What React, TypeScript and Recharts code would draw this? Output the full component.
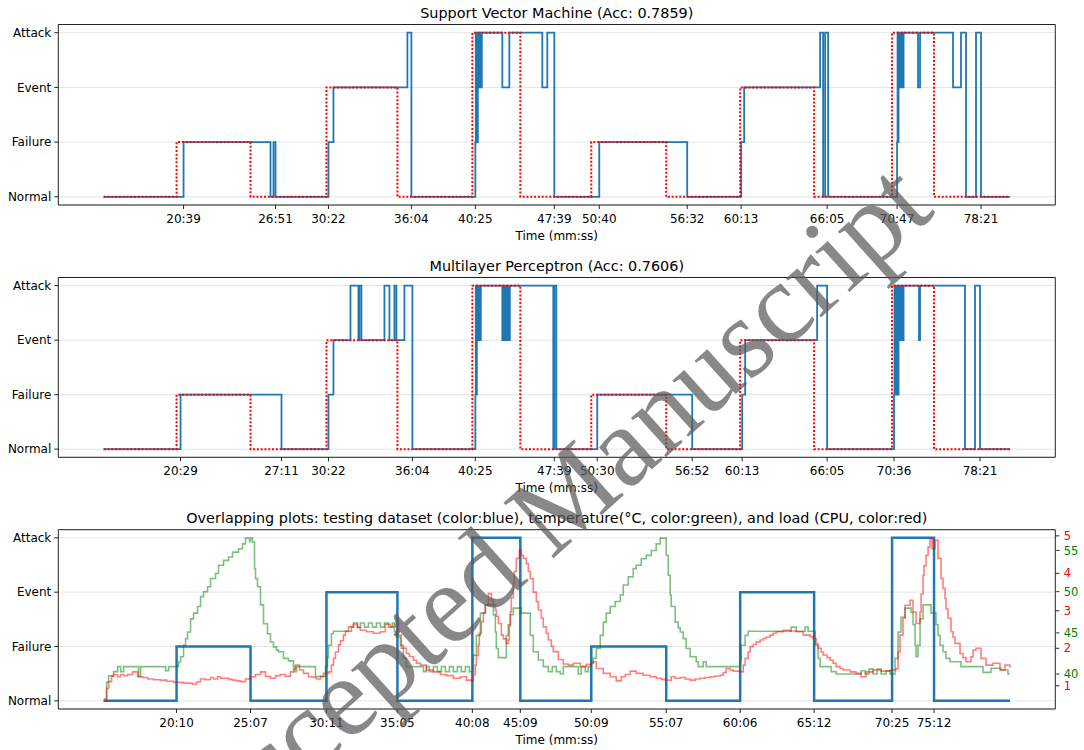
import React from 'react';
import { LineChart, Line, XAxis, YAxis, CartesianGrid } from 'recharts';

const LEVELS = ['Normal', 'Failure', 'Event', 'Attack'];

// x is the sample index of the testing dataset, value is the class (0 Normal .. 3 Attack)
const trueLabels: [number, number][] = [
  [0, 0], [73, 1], [147, 0], [223, 2], [294, 0], [369, 3], [417, 0], [488, 1],
  [563, 0], [637, 2], [711, 0], [789, 3], [831, 0], [907, 0],
];

const svmPred: [number, number][] = [
  [0, 0], [80, 1], [167, 0], [170, 1], [172, 0], [225, 1], [230, 2], [304, 3], [308, 0],
  [372, 1], [372.5, 3], [373, 1], [373.5, 3], [374, 1], [374.5, 3], [375, 2], [375.5, 3],
  [376, 2], [376.5, 3], [377, 2], [377.5, 3], [378, 2], [378.5, 3], [379, 3],
  [399, 2], [406, 3], [439, 2], [444, 3], [451, 0], [496, 1], [584, 0], [638, 1], [641, 2],
  [717, 3], [720, 0], [722, 3], [725, 0],
  [794, 1], [794.5, 3], [795, 1], [795.5, 3], [796, 2], [796.5, 3], [797, 2], [797.5, 3],
  [798, 2], [798.5, 3], [799, 2], [799.5, 3], [800, 2], [800.5, 3],
  [815, 2], [817, 3], [850, 2], [858, 3], [863, 0], [873, 3], [878, 0], [907, 0],
];

const mlpPred: [number, number][] = [
  [0, 0], [77, 1], [178, 0], [225, 1], [230, 2], [247, 3], [255, 2], [256, 3], [258, 2],
  [281, 3], [286, 2], [291, 3], [293, 2], [301, 3], [309, 0],
  [372, 1], [372.5, 3], [373, 1], [373.5, 3], [374, 2], [374.5, 3], [375, 2], [375.5, 3],
  [376, 2], [376.5, 3], [377, 2], [377.5, 3], [378, 3],
  [399, 2], [399.5, 3], [400, 2], [400.5, 3], [401, 2], [401.5, 3], [402, 2], [402.5, 3],
  [403, 2], [403.5, 3], [404, 2], [404.5, 3], [405, 2], [405.5, 3], [406, 2], [406.5, 3],
  [450, 0], [451, 3], [453, 0], [494, 1], [589, 0], [639, 1], [642, 2], [714, 3], [724, 0],
  [791, 1], [791.5, 3], [792, 1], [792.5, 3], [793, 1], [793.5, 3], [794, 1], [794.5, 3],
  [795, 1], [795.5, 3], [796, 2], [796.5, 3], [797, 2], [797.5, 3], [798, 2], [798.5, 3],
  [799, 2], [799.5, 3], [800, 2], [800.5, 3],
  [816, 2], [817, 3], [862, 0], [872, 3], [877, 0], [907, 0],
];

// temperature in °C
const temperature: [number, number][] = [
  [0, 37.0], [3, 39.0], [5, 39.8], [10, 40.3], [14, 40.9], [17, 40.3], [20, 40.9], [35, 39.7],
  [37, 40.9], [62, 40.4], [65, 40.9], [75, 41.5], [77, 42.1], [80, 43.5], [82, 44.3], [84, 45.1],
  [87, 46.7], [90, 47.4], [94, 48.2], [97, 49.4], [100, 50.0], [104, 50.6], [107, 51.6],
  [112, 52.2], [115, 53.2], [120, 53.8], [125, 54.2], [129, 54.8], [135, 55.2], [139, 55.8],
  [142, 56.5], [146, 56.1], [147, 56.5], [149, 56.0], [151, 52.8], [152, 51.6], [154, 50.6],
  [157, 48.4], [160, 46.1], [164, 44.9], [167, 43.9], [170, 43.3], [173, 42.9], [175, 42.7],
  [180, 41.9], [185, 41.6], [190, 40.9], [191, 40.3], [193, 40.9], [212, 39.7], [222, 40.9],
  [224, 42.0], [225, 43.5], [228, 44.9], [230, 45.2], [248, 45.7], [250, 46.2], [254, 45.7],
  [257, 46.2], [261, 45.7], [265, 46.2], [269, 45.7], [273, 46.2], [277, 45.7], [281, 46.2],
  [285, 45.7], [289, 46.2], [291, 45.2], [293, 44.5], [297, 43.5], [300, 41.9], [303, 40.9],
  [320, 40.3], [323, 40.9], [326, 40.3], [330, 40.9], [334, 40.3], [338, 40.9], [342, 40.3],
  [346, 40.9], [350, 40.3], [354, 40.9], [358, 40.3], [362, 40.9], [366, 40.3], [370, 42.3],
  [373, 44.7], [377, 47.4], [382, 48.4], [390, 47.2], [392, 45.1], [393, 43.1], [395, 42.0],
  [403, 44.7], [405, 46.0], [407, 47.2], [410, 48.0], [418, 47.4], [427, 44.7], [430, 42.7],
  [435, 41.7], [440, 40.9], [445, 40.3], [449, 40.9], [453, 40.3], [457, 40.0], [460, 40.9],
  [475, 40.0], [478, 40.9], [482, 40.3], [485, 40.9], [488, 41.3], [490, 41.9], [493, 43.1],
  [497, 44.7], [500, 46.3], [503, 47.4], [507, 48.2], [512, 48.8], [517, 49.6], [520, 50.8],
  [525, 51.8], [530, 52.8], [533, 53.2], [538, 54.0], [543, 54.4], [548, 55.0], [553, 55.8],
  [557, 56.5], [563, 54.4], [565, 52.0], [567, 49.6], [568, 48.2], [572, 46.3], [575, 45.6],
  [577, 45.1], [580, 44.3], [583, 43.1], [587, 42.1], [593, 41.5], [595, 40.9], [600, 41.5],
  [603, 40.9], [637, 41.5], [638, 43.5], [642, 44.7], [645, 45.2], [688, 45.7], [693, 45.2],
  [702, 45.7], [705, 45.2], [712, 43.5], [715, 41.9], [717, 40.9], [728, 40.3], [733, 40.0],
  [758, 40.4], [762, 40.0], [766, 40.6], [770, 40.0], [774, 40.6], [778, 40.0], [783, 40.4],
  [787, 40.0], [792, 41.9], [795, 45.1], [798, 46.9], [802, 48.0], [808, 47.5], [810, 46.0],
  [812, 43.5], [813, 42.1], [815, 43.5], [817, 46.7], [820, 48.4], [828, 47.4], [833, 46.0],
  [835, 44.7], [837, 43.5], [840, 42.7], [843, 41.9], [847, 41.5], [858, 40.9], [880, 40.2],
  [888, 40.7], [898, 40.5], [905, 40.0], [907, 40.0],
];

// CPU load
const cpuLoad: [number, number][] = [
  [0, 0.6], [3, 0.93], [5, 1.11], [8, 1.25], [10, 1.3], [14, 1.24], [17, 1.3], [20, 1.27],
  [24, 1.3], [29, 1.37], [34, 1.24], [39, 1.22], [44, 1.18], [50, 1.16], [57, 1.15], [63, 1.12],
  [70, 1.09], [80, 1.07], [89, 1.04], [93, 1.1], [97, 1.18], [102, 1.16], [107, 1.22],
  [110, 1.18], [114, 1.24], [117, 1.2], [120, 1.2], [125, 1.17], [129, 1.15], [133, 1.13],
  [137, 1.11], [142, 1.18], [147, 1.24], [152, 1.3], [157, 1.37], [162, 1.25], [167, 1.2],
  [172, 1.27], [177, 1.3], [182, 1.25], [187, 1.37], [190, 1.45], [192, 1.55], [196, 1.42],
  [200, 1.33], [205, 1.24], [210, 1.22], [213, 1.18], [217, 1.25], [220, 1.33], [225, 1.37],
  [228, 1.55], [230, 1.73], [232, 1.9], [235, 2.09], [237, 2.2], [240, 2.35], [242, 2.45],
  [245, 2.57], [250, 2.64], [254, 2.55], [257, 2.48], [263, 2.44], [270, 2.4], [277, 2.44],
  [282, 2.64], [287, 2.57], [292, 2.64], [295, 2.35], [298, 2.0], [303, 1.86], [306, 1.78],
  [310, 1.68], [313, 1.6], [317, 1.55], [323, 1.42], [330, 1.37], [337, 1.3], [343, 1.27],
  [350, 1.2], [357, 1.24], [363, 1.15], [368, 1.13], [370, 1.3], [372, 1.55], [373, 1.8],
  [375, 2.09], [376, 2.4], [378, 2.71], [380, 2.95], [382, 3.15], [385, 3.46], [388, 3.28],
  [390, 3.15], [392, 3.02], [393, 2.85], [395, 2.66], [398, 2.35], [400, 2.25], [403, 2.13],
  [405, 2.22], [406, 2.6], [407, 2.97], [408, 3.35], [410, 3.73], [411, 4.05], [413, 4.4],
  [416, 4.62], [418, 4.48], [420, 4.4], [423, 4.26], [425, 4.05], [427, 3.86], [430, 3.5],
  [433, 3.25], [435, 3.02], [438, 2.8], [440, 2.57], [443, 2.4], [445, 2.22], [448, 2.05],
  [450, 1.91], [455, 1.7], [460, 1.58], [465, 1.55], [470, 1.6], [477, 1.51], [483, 1.57],
  [488, 1.64], [493, 1.46], [500, 1.33], [507, 1.24], [513, 1.13], [518, 1.24], [522, 1.3],
  [527, 1.39], [533, 1.33], [540, 1.28], [547, 1.24], [553, 1.2], [558, 1.17], [562, 1.15],
  [568, 1.24], [572, 1.2], [577, 1.22], [582, 1.18], [587, 1.15], [592, 1.18], [597, 1.2],
  [602, 1.22], [607, 1.24], [612, 1.26], [617, 1.28], [620, 1.35], [623, 1.46], [627, 1.42],
  [630, 1.39], [637, 1.37], [640, 1.55], [642, 1.73], [645, 1.9], [647, 2.04], [650, 2.1],
  [653, 2.17], [657, 2.22], [660, 2.26], [663, 2.3], [667, 2.35], [670, 2.4], [673, 2.44],
  [680, 2.48], [687, 2.46], [693, 2.44], [697, 2.44], [700, 2.35], [703, 2.35], [707, 2.31],
  [710, 2.26], [713, 2.12], [715, 2.0], [718, 1.9], [720, 1.82], [724, 1.75], [727, 1.68],
  [730, 1.6], [733, 1.51], [737, 1.46], [740, 1.42], [747, 1.37], [753, 1.33], [758, 1.24],
  [763, 1.37], [770, 1.42], [778, 1.39], [787, 1.42], [793, 1.46], [795, 1.9], [797, 2.35],
  [800, 2.8], [802, 3.15], [807, 3.28], [810, 2.97], [813, 2.66], [817, 2.97], [818, 3.45],
  [820, 3.95], [821, 4.2], [823, 4.48], [825, 4.7], [827, 4.93], [829, 4.66], [832, 4.88],
  [835, 4.4], [838, 3.86], [840, 3.6], [842, 3.33], [843, 3.05], [845, 2.8], [848, 2.44],
  [850, 2.3], [852, 2.13], [857, 1.86], [860, 1.75], [863, 1.64], [868, 1.77], [870, 1.95],
  [873, 2.0], [878, 1.73], [883, 1.55], [890, 1.6], [897, 1.42], [902, 1.55], [907, 1.48],
];

const svmTicks = [80, 172, 225, 308, 372, 451, 496, 584, 638, 724, 794, 878];
const svmTickLabels = ['20:39', '26:51', '30:22', '36:04', '40:25', '47:39', '50:40', '56:32', '60:13', '66:05', '70:47', '78:21'];
const mlpTicks = [77, 178, 225, 309, 372, 451, 494, 589, 639, 724, 791, 877];
const mlpTickLabels = ['20:29', '27:11', '30:22', '36:04', '40:25', '47:39', '50:30', '56:52', '60:13', '66:05', '70:36', '78:21'];
const testTicks = [73, 147, 223, 294, 369, 417, 488, 563, 637, 711, 789, 831];
const testTickLabels = ['20:10', '25:07', '30:11', '35:05', '40:08', '45:09', '50:09', '55:07', '60:06', '65:12', '70:25', '75:12'];
const cpuTicks = [1, 2, 3, 4, 5];
const tempTicks = [40, 45, 50, 55];

const X_DOMAIN: [number, number] = [-45.35, 952.35];
const LEVEL_DOMAIN: [number, number] = [-0.15, 3.15];
const SPINE = '#222';
const TICK_FONT = 12;

const toRows = (pts: [number, number][]) => pts.map(([t, v]) => ({ t, v }));

const titleStyle: React.CSSProperties = {
  position: 'absolute', left: 58.3, width: 997, top: 4, textAlign: 'center',
  fontSize: 14.4, lineHeight: '18px', color: '#000', whiteSpace: 'nowrap',
};

const timeAxis = (ticks: number[], labels: string[]) => (
  <XAxis
    dataKey="t" type="number" domain={X_DOMAIN} allowDataOverflow
    ticks={ticks} interval={0} tickFormatter={(v: number) => labels[ticks.indexOf(v)] ?? ''}
    height={36} tickSize={4} tickMargin={5} stroke={SPINE}
    tick={{ fill: '#000', fontSize: TICK_FONT }}
    label={{ value: 'Time (mm:ss)', position: 'insideBottom', offset: 1, fill: '#000', fontSize: TICK_FONT }}
  />
);

// a tickless top axis closes the frame like matplotlib's top spine
const topSpine = () => (
  <XAxis xAxisId="top" orientation="top" type="number" domain={X_DOMAIN} allowDataOverflow tick={false} tickLine={false} height={1} stroke={SPINE} />
);

const levelAxis = () => (
  <YAxis
    type="number" domain={LEVEL_DOMAIN} allowDataOverflow ticks={[0, 1, 2, 3]}
    tickFormatter={(v: number) => LEVELS[v]} width={58.3} tickSize={4} tickMargin={3}
    stroke={SPINE} tick={{ fill: '#000', fontSize: TICK_FONT }}
  />
);

const ClassChart = ({ top, bottom, title, pred, ticks, labels }: {
  top: number; bottom: number; title: string; pred: [number, number][]; ticks: number[]; labels: string[];
}) => (
  <div style={{ position: 'absolute', left: 0, top, width: 1084, height: 250 }}>
    <div style={titleStyle}>{title}</div>
    <LineChart width={1084} height={250} margin={{ top: 23.5, right: 27.7, bottom, left: 0 }}>
      <CartesianGrid vertical={false} stroke="#e4e4e4" />
      {timeAxis(ticks, labels)}
      {topSpine()}
      {levelAxis()}
      <YAxis yAxisId="frame" orientation="right" type="number" domain={[0, 1]} tick={false} tickLine={false} width={1} stroke={SPINE} />
      <Line data={toRows(pred)} dataKey="v" type="stepAfter" stroke="#1f77b4" strokeWidth={1.8} dot={false} isAnimationActive={false} />
      <Line data={toRows(trueLabels)} dataKey="v" type="stepAfter" stroke="#ff0000" strokeWidth={2} strokeDasharray="2 1.8" dot={false} isAnimationActive={false} />
    </LineChart>
  </div>
);

const OverlapChart = ({ top }: { top: number }) => (
  <div style={{ position: 'absolute', left: 0, top, width: 1084, height: 245 }}>
    <div style={titleStyle}>
      Overlapping plots: testing dataset (color:blue), temperature(°C, color:green), and load (CPU, color:red)
    </div>
    <LineChart width={1084} height={245} margin={{ top: 23.7, right: 0, bottom: 5, left: 0 }}>
      <CartesianGrid vertical={false} stroke="#e4e4e4" />
      {timeAxis(testTicks, testTickLabels)}
      {topSpine()}
      {levelAxis()}
      <YAxis yAxisId="cpu" orientation="right" type="number" domain={[0.379, 5.165]} allowDataOverflow ticks={cpuTicks} width={1} tickSize={4} tickMargin={4.5} stroke={SPINE} tick={{ fill: '#ff0000', fontSize: 11.5, textAnchor: 'start' }} />
      <YAxis yAxisId="temp" orientation="right" type="number" domain={[35.76, 57.52]} allowDataOverflow ticks={tempTicks} width={27.7} tickSize={3} tickMargin={4.5} axisLine={false} stroke={SPINE} tick={{ fill: '#008000', fontSize: 11.5, textAnchor: 'start' }} />
      <Line data={toRows(trueLabels)} dataKey="v" type="stepAfter" stroke="#1f77b4" strokeWidth={2.5} dot={false} isAnimationActive={false} />
      <Line yAxisId="temp" data={toRows(temperature)} dataKey="v" type="stepAfter" stroke="#008000" strokeOpacity={0.5} strokeWidth={1.6} dot={false} isAnimationActive={false} />
      <Line yAxisId="cpu" data={toRows(cpuLoad)} dataKey="v" type="stepAfter" stroke="#ff0000" strokeOpacity={0.5} strokeWidth={1.6} dot={false} isAnimationActive={false} />
    </LineChart>
  </div>
);

export default function App() {
  return (
    <div style={{ position: 'absolute', left: 0, top: 0, width: 1084, height: 750, overflow: 'hidden', background: '#fff', fontFamily: '"DejaVu Sans", sans-serif' }}>
      <ClassChart top={0} bottom={9} title="Support Vector Machine (Acc: 0.7859)" pred={svmPred} ticks={svmTicks} labels={svmTickLabels} />
      <ClassChart top={253} bottom={9.7} title="Multilayer Perceptron (Acc: 0.7606)" pred={mlpPred} ticks={mlpTicks} labels={mlpTickLabels} />
      <OverlapChart top={505} />
      <div style={{
        position: 'absolute', left: 548, top: 512, transform: 'translate(-50%, -50%) rotate(-42deg)',
        fontFamily: '"Liberation Serif", serif', fontSize: 114, lineHeight: 1, whiteSpace: 'nowrap',
        color: 'rgba(90, 90, 90, 0.72)', pointerEvents: 'none',
      }}>
        Accepted Manuscript
      </div>
    </div>
  );
}
